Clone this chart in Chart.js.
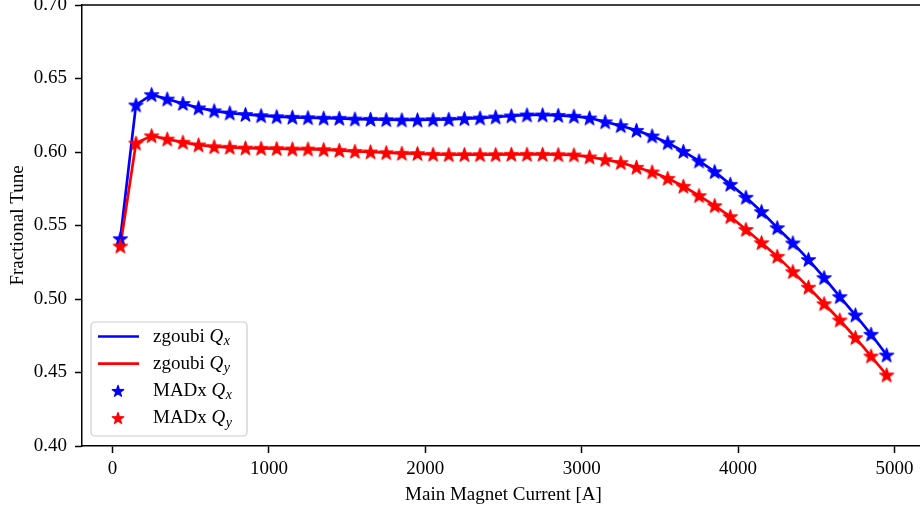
<!DOCTYPE html>
<html>
<head>
<meta charset="utf-8">
<script src="https://cdn.jsdelivr.net/npm/chart.js@4/dist/chart.umd.min.js"></script>
<style>
  html, body { margin: 0; padding: 0; background: #ffffff; }
  #wrap { width: 920px; height: 510px; overflow: hidden; position: relative; }
  canvas { display: block; margin-top: -4px; }
</style>
</head>
<body>
<div id="wrap"><canvas id="tune" width="935" height="514"></canvas></div>
<script>
// Main magnet current settings [A]
const currents = [
  50, 150, 250, 350, 450, 550, 650, 750, 850, 950,
  1050, 1150, 1250, 1350, 1450, 1550, 1650, 1750, 1850, 1950,
  2050, 2150, 2250, 2350, 2450, 2550, 2650, 2750, 2850, 2950,
  3050, 3150, 3250, 3350, 3450, 3550, 3650, 3750, 3850, 3950,
  4050, 4150, 4250, 4350, 4450, 4550, 4650, 4750, 4850, 4950
];

// Horizontal fractional tune Q_x
const tuneQx = [
  0.541, 0.632, 0.639, 0.636, 0.633, 0.630, 0.628, 0.6265, 0.6255, 0.6247,
  0.6240, 0.6236, 0.6233, 0.6230, 0.6229, 0.6224, 0.6222, 0.6220, 0.6218, 0.6218,
  0.6220, 0.6222, 0.6227, 0.6231, 0.6238, 0.6245, 0.6252, 0.6252, 0.6249, 0.6243,
  0.6231, 0.6205, 0.6179, 0.6147, 0.6109, 0.6063, 0.6004, 0.5939, 0.5866, 0.5780,
  0.5692, 0.5594, 0.5485, 0.5381, 0.5268, 0.5145, 0.5016, 0.4891, 0.4760, 0.4619
];

// Vertical fractional tune Q_y
const tuneQy = [
  0.536, 0.606, 0.611, 0.6088, 0.6066, 0.6048, 0.6036, 0.6032, 0.6027, 0.6025,
  0.6023, 0.6020, 0.6020, 0.6016, 0.6011, 0.6004, 0.6000, 0.5995, 0.5991, 0.5989,
  0.5984, 0.5982, 0.5982, 0.5982, 0.5982, 0.5984, 0.5984, 0.5984, 0.5982, 0.5980,
  0.5966, 0.5948, 0.5928, 0.5896, 0.5864, 0.5821, 0.5767, 0.5703, 0.5635, 0.5560,
  0.5473, 0.5383, 0.5290, 0.5186, 0.5080, 0.4968, 0.4857, 0.4737, 0.4612, 0.4483
];

const xTickValues = [0, 1000, 2000, 3000, 4000, 5000];
const yTickValues = [0.40, 0.45, 0.50, 0.55, 0.60, 0.65, 0.70];

const BLUE = '#0000ff';
const RED = '#ff0000';
const FONT = "'Liberation Serif', 'Times New Roman', serif";
const FONT_SIZE = 19;

// filled five-pointed star sprite used as the point style
function makeStar(color, r) {
  const size = Math.ceil(2 * r + 4);
  const c = document.createElement('canvas');
  c.width = size; c.height = size;
  const g = c.getContext('2d');
  const cx = size / 2, cy = size / 2 + r * 0.08;
  const inner = r * 0.381966;
  g.beginPath();
  for (let k = 0; k < 10; k++) {
    const rad = k % 2 === 0 ? r : inner;
    const a = -Math.PI / 2 + k * Math.PI / 5;
    const px = cx + rad * Math.cos(a), py = cy + rad * Math.sin(a);
    if (k === 0) g.moveTo(px, py); else g.lineTo(px, py);
  }
  g.closePath();
  g.fillStyle = color; g.strokeStyle = color;
  g.lineWidth = 1.3; g.lineJoin = 'round';
  g.fill(); g.stroke();
  return c;
}

const starBlue = makeStar(BLUE, 7.4);
const starRed = makeStar(RED, 7.4);
const legendStarBlue = makeStar(BLUE, 6.0);
const legendStarRed = makeStar(RED, 6.0);

const toPoints = (ys) => currents.map((x, i) => ({ x: x, y: ys[i] }));

// closing top spine of the axes box
const topSpine = {
  id: 'topSpine',
  afterDatasetsDraw(chart) {
    const { ctx, chartArea } = chart;
    ctx.save();
    ctx.strokeStyle = '#000';
    ctx.lineWidth = 1.5;
    ctx.beginPath();
    ctx.moveTo(chartArea.left - 0.75, chartArea.top);
    ctx.lineTo(chartArea.right, chartArea.top);
    ctx.stroke();
    ctx.restore();
  }
};

// legend with italic Q and subscripted plane label
const legendEntries = [
  { kind: 'line', color: BLUE, prefix: 'zgoubi ', sub: 'x' },
  { kind: 'line', color: RED, prefix: 'zgoubi ', sub: 'y' },
  { kind: 'star', star: legendStarBlue, prefix: 'MADx ', sub: 'x' },
  { kind: 'star', star: legendStarRed, prefix: 'MADx ', sub: 'y' }
];

const tuneLegend = {
  id: 'tuneLegend',
  afterDraw(chart) {
    const { ctx, chartArea } = chart;
    const w = 156, h = 114;
    const x0 = chartArea.left + 9;
    const y0 = chartArea.bottom - 10 - h;
    ctx.save();
    ctx.beginPath();
    ctx.roundRect(x0, y0, w, h, 4);
    ctx.fillStyle = 'rgba(255,255,255,0.8)';
    ctx.fill();
    ctx.strokeStyle = '#cccccc';
    ctx.lineWidth = 1.2;
    ctx.stroke();

    legendEntries.forEach((e, i) => {
      const ry = y0 + 14.5 + i * 27.2;
      if (e.kind === 'line') {
        ctx.strokeStyle = e.color;
        ctx.lineWidth = 2.7;
        ctx.beginPath();
        ctx.moveTo(x0 + 7, ry);
        ctx.lineTo(x0 + 48, ry);
        ctx.stroke();
      } else {
        ctx.drawImage(e.star, x0 + 27 - e.star.width / 2, ry - e.star.height / 2);
      }
      const base = ry + 5;
      let tx = x0 + 62;
      ctx.fillStyle = '#000';
      ctx.textBaseline = 'alphabetic';
      ctx.textAlign = 'left';
      ctx.font = FONT_SIZE + 'px ' + FONT;
      ctx.fillText(e.prefix, tx, base);
      tx += ctx.measureText(e.prefix).width;
      ctx.font = 'italic ' + FONT_SIZE + 'px ' + FONT;
      ctx.fillText('Q', tx, base);
      tx += ctx.measureText('Q').width + 0.5;
      ctx.font = 'italic ' + Math.round(FONT_SIZE * 0.72) + 'px ' + FONT;
      ctx.fillText(e.sub, tx, base + 3.5);
    });
    ctx.restore();
  }
};

const axisBorder = { display: true, color: '#000', width: 1.5 };
const axisGrid = {
  display: true, drawOnChartArea: false, drawTicks: true,
  tickLength: 7, tickWidth: 1.5, tickColor: '#000'
};

new Chart(document.getElementById('tune'), {
  data: {
    datasets: [
      {
        type: 'line', label: 'zgoubi Qx', data: toPoints(tuneQx),
        borderColor: BLUE, backgroundColor: BLUE, borderWidth: 2.7,
        pointRadius: 0, tension: 0, fill: false, order: 4
      },
      {
        type: 'line', label: 'zgoubi Qy', data: toPoints(tuneQy),
        borderColor: RED, backgroundColor: RED, borderWidth: 2.7,
        pointRadius: 0, tension: 0, fill: false, order: 3
      },
      {
        type: 'scatter', label: 'MADx Qx', data: toPoints(tuneQx),
        pointStyle: starBlue, pointRadius: 8, order: 2
      },
      {
        type: 'scatter', label: 'MADx Qy', data: toPoints(tuneQy),
        pointStyle: starRed, pointRadius: 8, order: 1
      }
    ]
  },
  options: {
    responsive: false,
    animation: false,
    layout: { padding: { left: 0, right: 10, top: 1, bottom: 0 } },
    plugins: { legend: { display: false }, tooltip: { enabled: false } },
    scales: {
      x: {
        type: 'linear', position: 'bottom', min: -195, max: 5195,
        afterBuildTicks: (s) => { s.ticks = xTickValues.map(v => ({ value: v })); },
        afterFit: (s) => { s.height = 64; s.paddingLeft = 0; s.paddingRight = 0; },
        ticks: {
          color: '#000', padding: 5, maxRotation: 0,
          font: { family: FONT, size: FONT_SIZE },
          callback: (v) => String(v)
        },
        border: axisBorder,
        grid: axisGrid,
        title: {
          display: true, text: 'Main Magnet Current [A]', color: '#000',
          font: { family: FONT, size: FONT_SIZE }, padding: { top: 0, bottom: 4 }
        }
      },
      y: {
        type: 'linear', position: 'left', min: 0.40, max: 0.70,
        afterBuildTicks: (s) => { s.ticks = yTickValues.map(v => ({ value: v })); },
        afterFit: (s) => { s.width = 82; s.paddingTop = 0; s.paddingBottom = 0; },
        ticks: {
          color: '#000', padding: 8,
          font: { family: FONT, size: FONT_SIZE },
          callback: (v) => Number(v).toFixed(2)
        },
        border: axisBorder,
        grid: axisGrid,
        title: {
          display: true, text: 'Fractional Tune', color: '#000',
          font: { family: FONT, size: FONT_SIZE }, padding: { top: 7, bottom: 0 }
        }
      }
    }
  },
  plugins: [topSpine, tuneLegend]
});
</script>
</body>
</html>
